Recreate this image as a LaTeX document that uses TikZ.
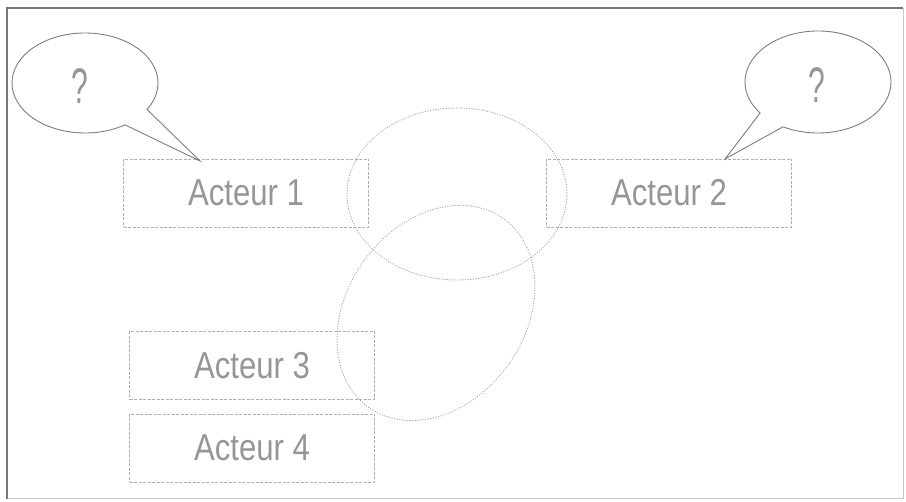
\documentclass[tikz,border=0pt]{standalone}
\usepackage{fontspec}
\newfontfamily\acfont[FakeStretch=0.83]{Liberation Sans}
\newfontfamily\qfont[FakeStretch=0.6]{Liberation Sans}
\usetikzlibrary{shapes.geometric}
\definecolor{framegray}{RGB}{120,120,120}
\definecolor{framelight}{RGB}{200,200,200}
\definecolor{boxgray}{RGB}{175,175,175}
\definecolor{textgray}{RGB}{150,150,150}
\definecolor{bubblegray}{RGB}{125,125,125}
\definecolor{ringgray}{RGB}{165,165,165}
\tikzset{
  actor/.style={draw=boxgray, line width=0.8pt, dash pattern=on 3pt off 1.5pt,
    minimum width=245pt, minimum height=68pt, inner sep=0pt,
    text=textgray, font=\acfont\fontsize{37.5}{40}\selectfont},
  bubble/.style={draw=bubblegray, line width=0.9pt, fill=white, line join=miter},
  qmark/.style={text=textgray, font=\qfont\fontsize{50}{52}\selectfont, inner sep=0pt},
  ring/.style={draw=ringgray, line width=0.9pt, dash pattern=on 0.6pt off 2pt, line cap=round}
}
\begin{document}
\begin{tikzpicture}[x=1pt, y=-1pt]
  \useasboundingbox (0,0) rectangle (906,502);
  \fill[white] (0,0) rectangle (906,502);

  % frame
  \draw[framelight, line width=1pt] (903,8) -- (903,499) -- (7,499);
  \draw[framegray, line width=1.3pt] (7,499) -- (7,8) -- (903,8);

  % actor boxes
  \node[actor] (a1) at (246,193) {Acteur 1};
  \node[actor] (a2) at (669,193) {Acteur 2};
  \node[actor] (a3) at (252,365.5) {Acteur 3};
  \node[actor] (a4) at (252,448) {Acteur 4};

  % dotted rings
  \coordinate (r1) at (457,194);
  \coordinate (r2) at (436,313);
  \draw[ring] (r1) ellipse [x radius=110, y radius=86];
  \draw[ring, rotate around={-35.6:(r2)}] (r2) ellipse [x radius=89, y radius=116];

  % speech bubbles
  \coordinate (b1) at (85,83);
  \coordinate (t1) at (200,161);
  \draw[bubble] (b1) ++(56.8:73 and 50)
    arc[start angle=56.8, end angle=391.9, x radius=73, y radius=50] -- (t1) -- cycle;
  \node[qmark] (q1) at (80,86) {?};

  \coordinate (b2) at (818,82);
  \coordinate (t2) at (725,159);
  \draw[bubble] (b2) ++(118.6:73 and 51)
    arc[start angle=118.6, end angle=-217.5, x radius=73, y radius=51] -- (t2) -- cycle;
  \node[qmark] (q2) at (817,85) {?};
\end{tikzpicture}
\end{document}
